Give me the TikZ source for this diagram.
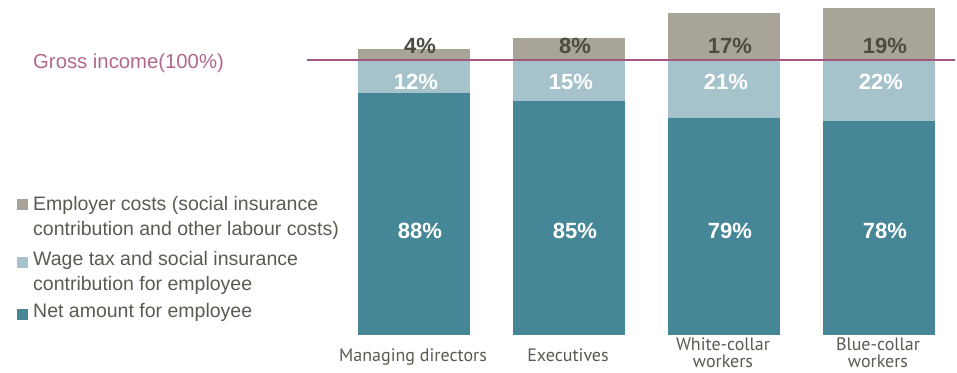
\documentclass[tikz,border=0pt]{standalone}
\usepackage{fontspec}
\setmainfont{Liberation Sans}
\newfontfamily\catfont{PT Sans}
\usetikzlibrary{positioning}

\definecolor{costgrey}{HTML}{A8A598}
\definecolor{taxblue}{HTML}{A6C3CB}
\definecolor{netteal}{HTML}{468797}
\definecolor{grossline}{HTML}{A2587E}
\definecolor{grosstext}{HTML}{B0688E}
\definecolor{labeltext}{HTML}{5B5A50}
\definecolor{darklabel}{HTML}{4D4C40}

\begin{document}
\begin{tikzpicture}[x=1pt,y=-1pt,
        pctlabel/.style={
            font=\fontsize{22}{26}\selectfont\bfseries,
            inner sep=0pt},
        toplabel/.style={pctlabel,text=darklabel},
        inlabel/.style={pctlabel,text=white},
        catlabel/.style={
            font=\catfont\fontsize{18}{17}\selectfont,
            text=labeltext,
            align=center,
            inner sep=0pt,
            anchor=north},
        legbox/.style={minimum size=11pt,inner sep=0pt},
        legtext/.style={
            font=\fontsize{19.5}{25}\selectfont,
            text=labeltext,
            align=left,
            inner sep=0pt,
            anchor=north west}
        ]
        \useasboundingbox (0,0) rectangle (957,372);

        \foreach \i/\x/\n/\w/\e/\cat/\cy in {% bar/left edge/net/tax/costs/label/label top
            1/358/88/12/4/{Managing directors}/349,
            2/513/85/15/8/{Executives}/349,
            3/668/79/21/17/{White-collar\\workers}/338,
            4/823/78/22/19/{Blue-collar\\workers}/338}
        {
            \pgfmathsetmacro\ya{335-2.75*\n}
            \pgfmathsetmacro\yb{\ya-2.75*\w}
            \pgfmathsetmacro\yc{\yb-2.75*\e}
            \fill[netteal] (\x,335) rectangle (\x+112,\ya);
            \fill[taxblue] (\x,\ya) rectangle (\x+112,\yb);
            \fill[costgrey] (\x,\yb) rectangle (\x+112,\yc);
            \node[inlabel] (net\i) at (\x+62,231) {\n\%};
            \node[inlabel] (tax\i) at (\x+58,82) {\w\%};
            \node[toplabel] (cost\i) at (\x+62,46) {\e\%};
            \node[catlabel] (cat\i) at (\x+55,\cy) {\cat};
        }

        % gross income line over the bars
        \coordinate (gl) at (307,60);
        \coordinate (gr) at (955,60);
        \draw[grossline,line width=1.3pt] (gl) -- (gr);
        \node[font=\fontsize{20.3}{24}\selectfont,text=grosstext,anchor=base west,inner sep=0pt]
            (gross) at (33,68) {Gross income(100\%)};

        % legend
        \node[legbox,fill=costgrey] (key1) at (22,204) {};
        \node[legtext] (leg1) at (33,196) {Employer costs (social insurance\\contribution and other labour costs)};
        \node[legbox,fill=taxblue] (key2) at (22,262) {};
        \node[legtext] (leg2) at (33,251) {Wage tax and social insurance\\contribution for employee};
        \node[legbox,fill=netteal] (key3) at (22,314) {};
        \node[legtext] (leg3) at (33,303) {Net amount for employee};
\end{tikzpicture}
\end{document}
